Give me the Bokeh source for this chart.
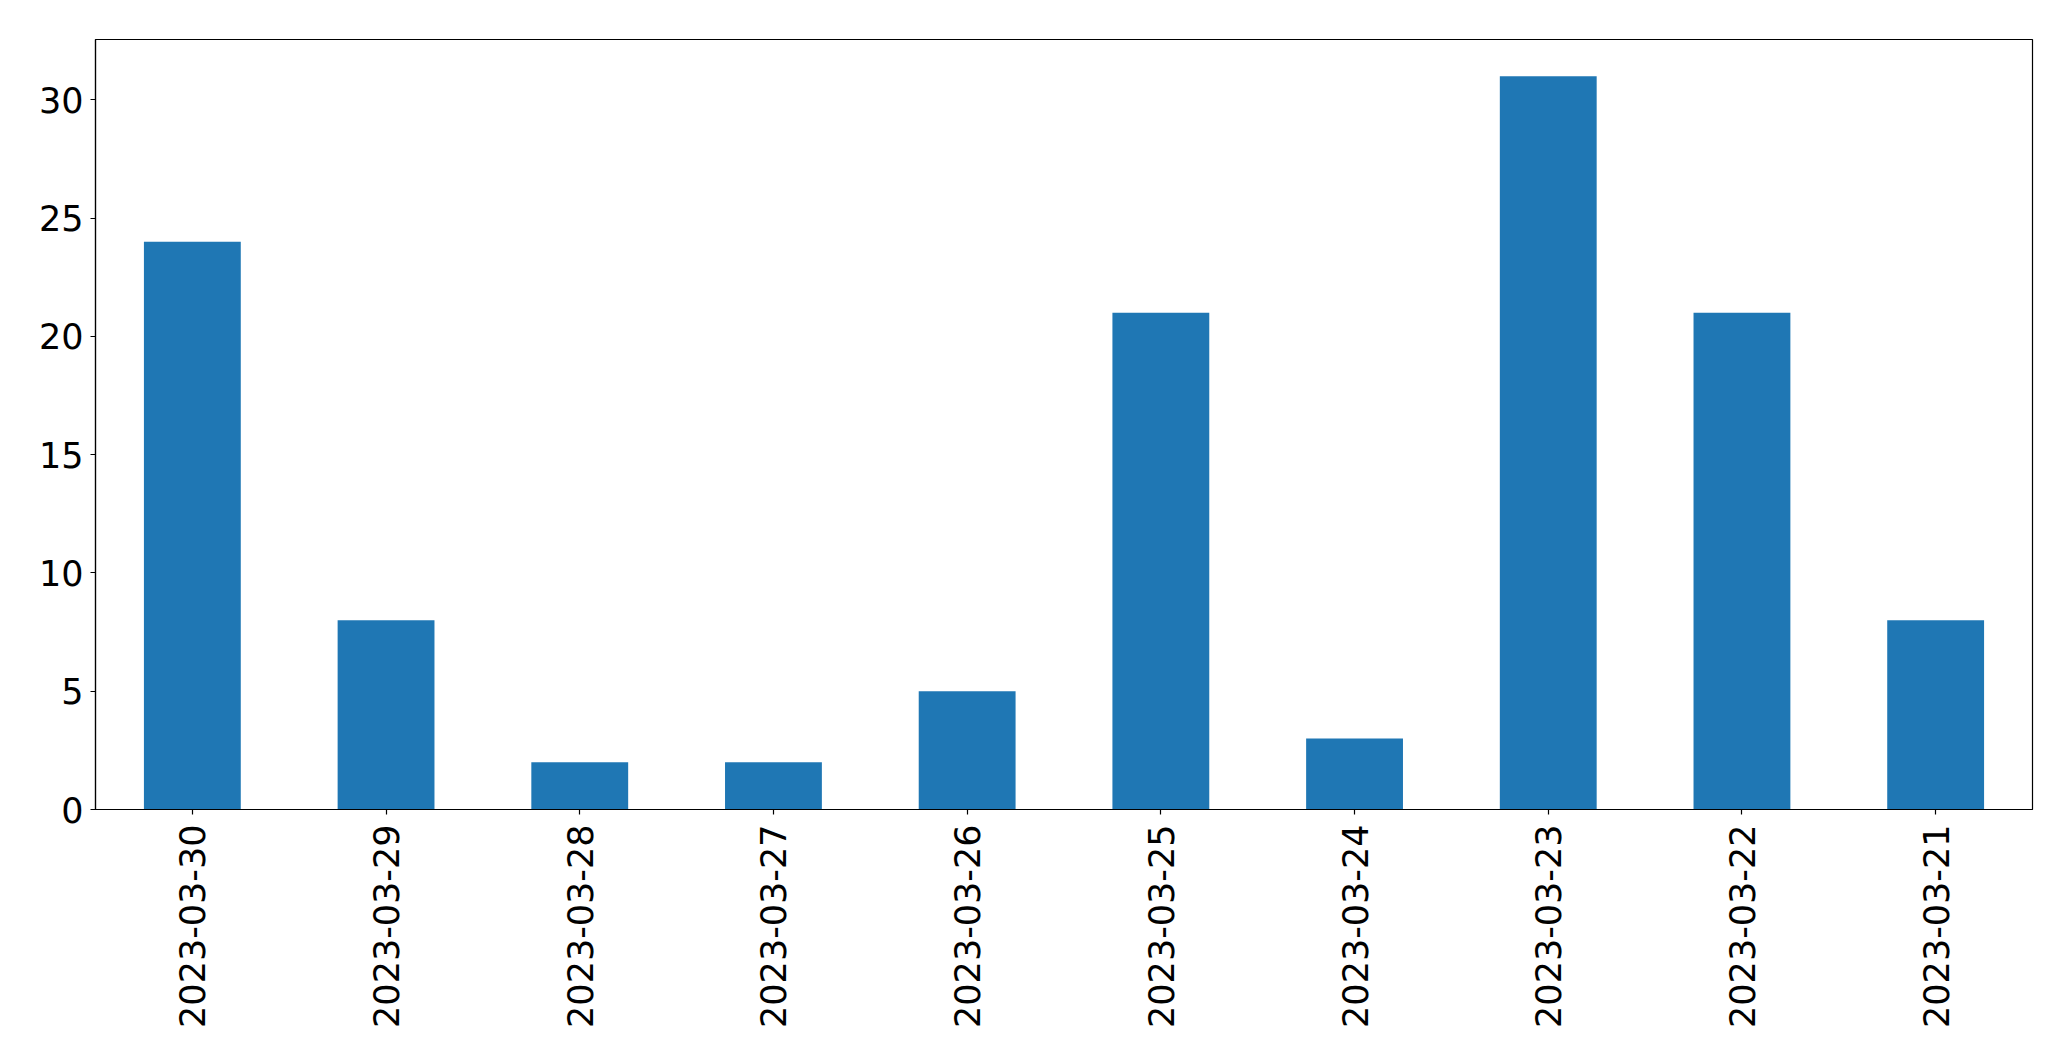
import math
from bokeh.plotting import figure
from bokeh.models import FactorRange, Range1d, FixedTicker, ColumnDataSource
from bokeh.embed import file_html
from bokeh.resources import INLINE

dates = ["2023-03-30", "2023-03-29", "2023-03-28", "2023-03-27", "2023-03-26",
         "2023-03-25", "2023-03-24", "2023-03-23", "2023-03-22", "2023-03-21"]
counts = [24, 8, 2, 2, 5, 21, 3, 31, 21, 8]
y_ticks = [0, 5, 10, 15, 20, 25, 30]

src = ColumnDataSource(dict(x=dates, top=counts))

p = figure(x_range=FactorRange(*dates), y_range=Range1d(0, max(counts) * 1.05),
           width=2055, height=1045, output_backend="svg", toolbar_location=None,
           min_border_left=95, min_border_right=23, min_border_top=39, min_border_bottom=236)

p.vbar(x="x", top="top", width=0.5, source=src, color="#1f77b4", line_color=None)

p.xgrid.visible = False
p.ygrid.visible = False
p.outline_line_color = "black"
p.outline_line_width = 1.2
p.background_fill_color = "white"
p.border_fill_color = "white"

p.yaxis.ticker = FixedTicker(ticks=y_ticks)
for ax in (p.xaxis[0], p.yaxis[0]):
    ax.major_label_text_font = "DejaVu Sans"
    ax.major_label_text_font_size = "35px"
    ax.major_label_text_color = "black"
    ax.major_tick_out = 5
    ax.major_tick_in = 0
    ax.minor_tick_line_color = None
    ax.axis_line_color = "black"
    ax.axis_line_width = 1.2
    ax.major_tick_line_color = "black"
    ax.major_tick_line_width = 1.2

p.yaxis.major_label_standoff = 7
p.xaxis.major_label_standoff = 10
p.xaxis.major_label_orientation = math.pi / 2

open("out.html", "w").write(file_html(p, INLINE))
